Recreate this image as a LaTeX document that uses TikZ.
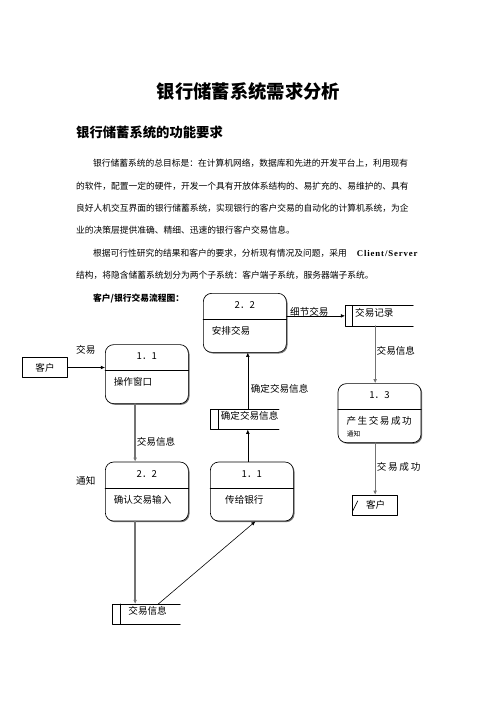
\documentclass[tikz,border=0pt]{standalone}
\usepackage{fontspec}
\setmainfont{Noto Sans CJK SC}
\newfontfamily\latinfont{Liberation Serif}
\usepackage{tikz}
\usetikzlibrary{arrows.meta}
\usetikzlibrary{calc}
\usetikzlibrary{shadows}
\XeTeXlinebreaklocale "zh"
\XeTeXlinebreakskip=0pt plus 1fil

% a justified line of the text
\newcommand{\fullline}[2]{\makebox[#1][s]{#2}}

% process box: [text shift] name, x, y (north west), number, text
\newcommand{\procbox}[6][0]{%
\node[proc,anchor=north west] (#2) at (#3,#4) {};
\draw ($(#2.north west)+(0,26)$) -- ($(#2.north east)+(0,26)$);
\node[lbl] (#2-num) at ($(#2.north)+(0,12)$) {#5};
\node[lbl,anchor=west] (#2-txt) at ($(#2.north west)+(8.7+#1,38)$) {#6};
}

% data store: name, x, y (north west), width, text, text offset
\newcommand{\datastore}[6]{%
\node[anchor=north west,minimum width=#4*1.2pt,minimum height=20*1.2pt,inner sep=0pt] (#1) at (#2,#3) {};
\draw[line width=0.7pt] (#1.north east) -- (#1.north west) -- (#1.south west) -- (#1.south east);
\draw[line width=0.7pt] ($(#1.north west)+(7.5,0)$) -- ($(#1.south west)+(7.5,0)$);
\node[lbl,anchor=west] (#1-txt) at ($(#1.west)+(#6,-3.5)$) {#5};
}

\begin{document}
\begin{tikzpicture}[x=1.2pt,y=-1.2pt,line cap=round,line join=round,>={Latex[length=5pt,width=4.5pt]},
  body/.style={anchor=west,inner sep=0pt,font=\fontsize{10.5}{12}\selectfont},
  lbl/.style={inner sep=0pt,font=\fontsize{11.5}{13}\selectfont},
  proc/.style={draw,line width=0.8pt,rounded corners=10pt,fill=white,minimum width=83*1.2pt,minimum height=59*1.2pt,inner sep=0pt,
    drop shadow={shadow xshift=1.4pt,shadow yshift=-1.4pt,fill=black!55,opacity=1}},
  ent/.style={draw,line width=0.8pt,minimum width=45.4*1.2pt,minimum height=20.4*1.2pt,inner sep=0pt,font=\fontsize{11.5}{13}\selectfont},
  flow/.style={->,line width=1.6pt,draw=black!55},
  link/.style={->,line width=0.7pt}]
\path[use as bounding box,fill=white] (0,0) rectangle (496,702);

% title and text
\node[font=\fontsize{22}{26}\selectfont\bfseries] (title) at (248.5,92) {银行储蓄系统需求分析};
\node[body,font=\fontsize{16}{19}\selectfont\bfseries] (head) at (76,132) {银行储蓄系统的功能要求};
\node[body] (t1) at (93,163) {\fullline{395pt}{银行储蓄系统的总目标是：在计算机网络，数据库和先进的开发平台上，利用现有}};
\node[body] (t2) at (76,186) {\fullline{415pt}{的软件，配置一定的硬件，开发一个具有开放体系结构的、易扩充的、易维护的、具有}};
\node[body] (t3) at (76,208) {\fullline{415pt}{良好人机交互界面的银行储蓄系统，实现银行的客户交易的自动化的计算机系统，为企}};
\node[body] (t4) at (76,230) {业的决策层提供准确、精细、迅速的银行客户交易信息。};
\node[body] (t5) at (93,253) {\fullline{395pt}{根据可行性研究的结果和客户的要求，分析现有情况及问题，采用\hspace{12pt}{\latinfont\bfseries\addfontfeature{LetterSpace=10}Client/Server}}};
\node[body] (t6) at (76,275) {结构，将隐含储蓄系统划分为两个子系统：客户端子系统，服务器端子系统。};
\node[body,font=\fontsize{10.5}{12}\selectfont\bfseries] (t7) at (93,298) {客户/银行交易流程图：};

% processes
\procbox{ap}{203}{293}{2．2}{安排交易}
\procbox{op}{105}{344.3}{1．1}{操作窗口}
\procbox{p13}{337.7}{383.3}{1．3}{\addfontfeature{LetterSpace=16}产生交易成功}
\node[inner sep=0pt,anchor=west,font=\fontsize{8}{9}\selectfont] (p13-tz) at (346.7,434) {通知};
\procbox{qr}{105}{461.7}{2．2}{确认交易输入}
\procbox[6.3]{cgyh}{210}{461.7}{1．1}{传给银行}

% stores
\datastore{jl}{345}{305.7}{68}{交易记录}{10}
\datastore{qd}{210.7}{409.3}{68}{确定交易信息}{10}
\datastore{jyxx}{112.7}{604}{67.3}{交易信息}{15.6}

% customers
\node[ent] (kh) at (45,367.5) {客户};
\node[ent] (kh2) at (374.8,505.3) {\hspace{2pt}客户};
\draw[line width=0.7pt] ($(kh2.south west)+(1,-5)$) -- ($(kh2.south west)+(6,-15)$);

% connectors
\coordinate (vl) at ($(op.south)+(-11.7,0)$);
\coordinate (vm) at ($(cgyh.north)+(-4,0)$);
\coordinate (vr) at ($(jl.south)+(-4,0)$);
\draw[link] (kh.east) -- (kh.east -| op.west);
\draw[link] (ap.east |- jl.west) -- (jl.west);
\draw[flow] (vl) -- (vl |- qr.north);
\draw[flow] (vl |- qr.south) -- (vl |- jyxx.north);
\draw[link] ($(jyxx.north west)+(45.6,0)$) -- ($(cgyh.south)+(3.6,0)$);
\draw[link] (vm) -- (vm |- qd.south);
\draw[link] (vm |- qd.north) -- (vm |- ap.south);
\draw[flow] (vr) -- (vr |- p13.north);
\draw[flow] (vr |- p13.south) -- (vr |- kh2.north);

% labels
\node[lbl,anchor=west] (l-jy) at (76,350) {交易};
\node[lbl,anchor=west] (l-tz) at (76,480.7) {通知};
\node[lbl,anchor=west] (l-xj) at (290,312) {细节交易};
\node[lbl,anchor=west] (l-xx1) at (376.5,350.7) {交易信息};
\node[lbl,anchor=west] (l-xx2) at (136.7,441.7) {交易信息};
\node[lbl,anchor=west] (l-qd) at (250.7,389.3) {确定交易信息};
\node[lbl,anchor=west] (l-cg) at (376.7,467.3) {\addfontfeature{LetterSpace=18}交易成功};
\end{tikzpicture}
\end{document}
